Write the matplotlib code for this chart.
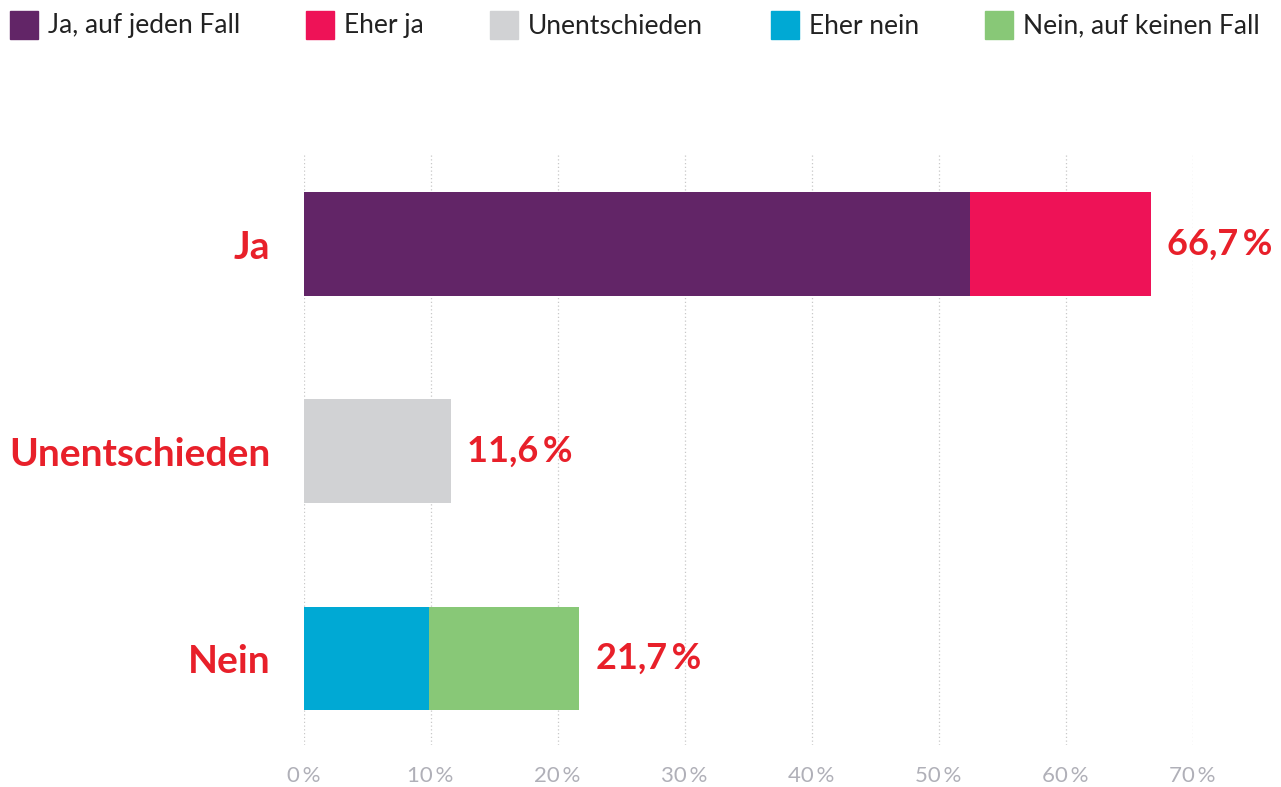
import matplotlib.pyplot as plt
from matplotlib.patches import Rectangle

# Daten
kategorien = ['Ja', 'Unentschieden', 'Nein']
gesamt = ['66,7\u2009%', '11,6\u2009%', '21,7\u2009%']
serien = ['Ja, auf jeden Fall', 'Eher ja', 'Unentschieden', 'Eher nein', 'Nein, auf keinen Fall']
farben = ['#622567', '#ee1257', '#d1d2d4', '#00a9d4', '#88c877']
# Werte je Serie fuer die drei Kategorien
ja_auf_jeden_fall = [52.5, 0, 0]
eher_ja = [14.2, 0, 0]
unentschieden = [0, 11.6, 0]
eher_nein = [0, 0, 9.9]
nein_auf_keinen_fall = [0, 0, 11.8]
werte = [ja_auf_jeden_fall, eher_ja, unentschieden, eher_nein, nein_auf_keinen_fall]
xticks = [0, 10, 20, 30, 40, 50, 60, 70]

plt.rcParams['font.family'] = ['Lato', 'DejaVu Sans']
rot = '#e8202a'

fig = plt.figure(figsize=(12.81, 7.87), dpi=100)
ax = fig.add_axes([0.237, 0.053, 0.694, 0.75])

y = list(range(len(kategorien)))
links = [0.0] * len(kategorien)
for name, w, c in zip(serien, werte, farben):
    ax.barh(y, w, left=links, height=0.5, color=c, zorder=2)
    links = [a + b for a, b in zip(links, w)]

for i, t in enumerate(gesamt):
    ax.text(links[i] + 1.3, i, t, va='center', ha='left', color=rot,
            fontsize=26, fontweight='bold', clip_on=False)

ax.set_yticks(y)
ax.set_yticklabels(kategorien, color=rot, fontsize=28, fontweight='bold')
ax.tick_params(axis='y', length=0, pad=24)
ax.set_xticks(xticks)
ax.set_xticklabels([f'{v}\u2009%' for v in xticks], color='#b0b0b8', fontsize=16)
ax.tick_params(axis='x', length=0, pad=15)
ax.set_xlim(0, 70)
ax.set_ylim(2.42, -0.43)
ax.grid(axis='x', color='#c8c8c8', linestyle=(0, (1, 2)), linewidth=0.9, zorder=0)
for s in ax.spines.values():
    s.set_visible(False)

# Legende oben
leg_x = [10, 306, 490, 771, 985]
for xp, name, c in zip(leg_x, serien, farben):
    fig.patches.append(Rectangle((xp / 1281, 1 - 39 / 787), 28 / 1281, 28 / 787,
                                 transform=fig.transFigure, color=c))
    fig.text((xp + 38) / 1281, 1 - 26 / 787, name, va='center', ha='left',
             fontsize=19, color='#222222')

fig.savefig('out.png', dpi=100)
